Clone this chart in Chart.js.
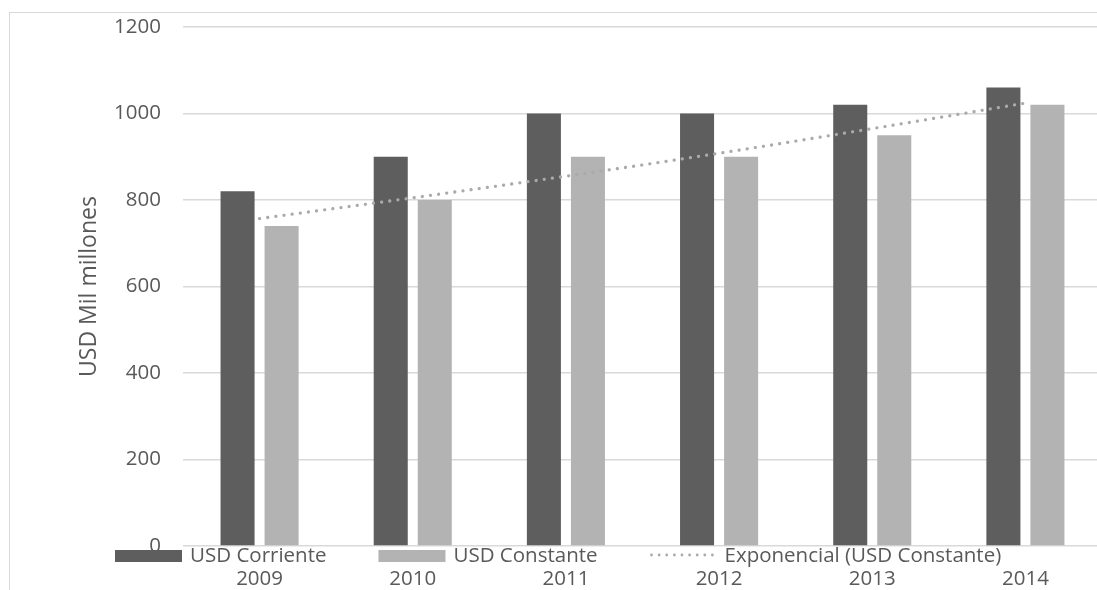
<!DOCTYPE html>
<html><head><meta charset="utf-8">
<script src="https://cdn.jsdelivr.net/npm/chart.js@4"></script>
<style>
html,body{margin:0;padding:0;background:#fff;overflow:hidden;width:1097px;height:590px}
#wrap{position:absolute;left:0;top:0;width:1130px;height:590px}
#frame{position:absolute;left:9px;top:12px;width:1300px;height:700px;border-left:1.4px solid #d9d9d9;border-top:1.4px solid #d9d9d9;pointer-events:none}
</style></head><body>
<div id="wrap"><canvas id="c" width="1130" height="590"></canvas></div>
<div id="frame"></div>
<script>
const categories = ['2009','2010','2011','2012','2013','2014'];
const usdCorriente = [820, 900, 1000, 1000, 1020, 1060];
const usdConstante = [740, 800, 900, 900, 950, 1020];
const tendencia = [757, 805, 855, 908, 965, 1024];
const yTicks = [0, 200, 400, 600, 800, 1000, 1200];
const yTitle = 'USD Mil millones';

const DARK = '#5e5e5e', LIGHT = '#b3b3b3', TREND = '#aaaaaa', TXT = '#595959', GRID = '#d9d9d9';
Chart.defaults.font.family = '"Open Sans", sans-serif';
Chart.defaults.font.size = 20.5;
Chart.defaults.color = TXT;

const legendPlugin = {
  id: 'customLegend',
  afterDraw(chart) {
    const ctx = chart.ctx;
    ctx.save();
    ctx.font = '20.5px "Open Sans", sans-serif';
    ctx.textBaseline = 'middle';
    ctx.fillStyle = TXT;
    const cy = 556;
    let x = 115;
    const items = [
      {kind: 'box', color: DARK, label: chart.data.datasets[1].label},
      {kind: 'box', color: LIGHT, label: chart.data.datasets[2].label},
      {kind: 'dots', color: TREND, label: chart.data.datasets[0].label}
    ];
    items.forEach(it => {
      if (it.kind === 'box') {
        ctx.fillStyle = it.color;
        ctx.fillRect(x, cy - 6, 67, 12);
      } else {
        ctx.strokeStyle = it.color;
        ctx.lineWidth = 2.8;
        ctx.lineCap = 'round';
        ctx.setLineDash([0.01, 7.6]);
        ctx.beginPath();
        ctx.moveTo(x + 2, cy - 1);
        ctx.lineTo(x + 68, cy - 1);
        ctx.stroke();
        ctx.setLineDash([]);
      }
      x += 67 + 8;
      ctx.fillStyle = TXT;
      ctx.fillText(it.label, x, cy);
      x += ctx.measureText(it.label).width + 52;
    });
    ctx.restore();
  }
};

new Chart(document.getElementById('c'), {
  type: 'bar',
  data: {
    labels: categories,
    datasets: [
      {type: 'line', label: 'Exponencial (USD Constante)', data: tendencia, borderColor: TREND,
       borderWidth: 3.3, borderDash: [0.01, 8.2], borderCapStyle: 'round', pointRadius: 0,
       fill: false, cubicInterpolationMode: 'monotone', order: 0},
      {label: 'USD Corriente', data: usdCorriente, backgroundColor: DARK,
       categoryPercentage: 0.575, barPercentage: 0.773, order: 1},
      {label: 'USD Constante', data: usdConstante, backgroundColor: LIGHT,
       categoryPercentage: 0.575, barPercentage: 0.773, order: 1}
    ]
  },
  options: {
    responsive: false,
    animation: false,
    layout: {padding: {top: 27, right: 28, left: 0, bottom: 0}},
    plugins: {legend: {display: false}, tooltip: {enabled: false}},
    scales: {
      x: {
        grid: {display: false, drawTicks: false},
        border: {display: false},
        ticks: {padding: 21, color: TXT},
        afterFit(s) { s.height = 44; }
      },
      y: {
        min: 0, max: 1200,
        afterBuildTicks(s) { s.ticks = yTicks.map(v => ({value: v})); },
        grid: {color: GRID, lineWidth: 1.4, drawTicks: false},
        border: {display: false},
        ticks: {padding: 22, color: TXT, callback: v => String(v)},
        title: {display: true, text: yTitle, color: TXT, font: {size: 23}, padding: {top: 76, bottom: 0}},
        afterFit(s) { s.width = 183; s.paddingTop = 0; s.paddingBottom = 0; }
      }
    }
  },
  plugins: [legendPlugin]
});
</script>
</body></html>
